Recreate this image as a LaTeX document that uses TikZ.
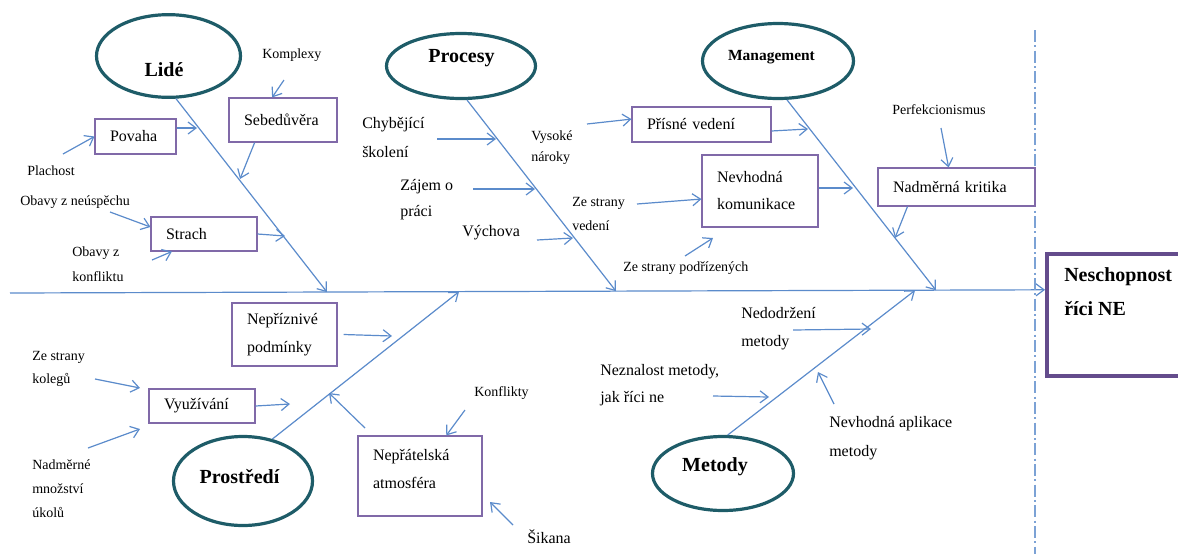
\documentclass[tikz,border=0pt]{standalone}
\usepackage{fontspec}
\setmainfont{Liberation Serif}
\usetikzlibrary{arrows.meta,calc,shapes.geometric}
\definecolor{boneblue}{HTML}{5B8BCB}
\definecolor{boxpurple}{HTML}{8069A8}
\definecolor{cattl}{HTML}{1E5C68}
\definecolor{headpurple}{HTML}{644C8C}

\begin{document}
\begin{tikzpicture}[x=0.75pt,y=-0.75pt,
  arr/.style={draw=boneblue, line width=0.9pt, -{Straight Barb[length=6pt,width=9pt]}},
  cat/.style={ellipse, draw=cattl, line width=2.4pt, inner sep=0pt},
  cattxt/.style={inner sep=0pt, font=\bfseries\fontsize{15}{18}\selectfont},
  box/.style={rectangle, draw=boxpurple, line width=0.8pt, align=left, inner xsep=11.25pt, inner ysep=2pt, font=\fontsize{12}{21}\selectfont},
  lbl/.style={inner sep=0pt, anchor=west, align=left, font=\fontsize{10.5}{18}\selectfont},
  lblm/.style={inner sep=0pt, anchor=west, align=left, font=\fontsize{12}{21}\selectfont},
  headbox/.style={rectangle, draw=headpurple, line width=3pt, inner sep=0pt},
  axisline/.style={draw=boneblue!80, line width=1pt, dash pattern=on 9pt off 2.5pt on 1.5pt off 2.5pt}
]
\useasboundingbox (0,0) rectangle (1178,554);

% ---------- effect (head) and spine ----------
\node[headbox, minimum width=112.5pt, minimum height=91.5pt] (head) at (1122,315) {};
\node[inner sep=0pt, anchor=west, align=left, font=\bfseries\fontsize{15}{25.5}\selectfont] (headtxt) at (1064,292) {Neschopnost\\říci NE};
\coordinate (spineL) at (10,293);
\coordinate (headA) at ($(head.north west)!0.3!(head.south west)$);
\draw[arr] (spineL) -- (headA);
\coordinate (axT) at (1035,30);
\coordinate (axB) at (1035,554);
\draw[axisline] (axT) -- (axB);

% ---------- category ellipses ----------
\node[cat, minimum width=108pt, minimum height=62pt] (lide) at (168.5,56) {};
\node[cattxt] (lidetxt) at (164,70) {Lidé};
\node[cat, minimum width=111.75pt, minimum height=48.75pt] (procesy) at (461,66) {};
\node[cattxt] (procesytxt) at (461.5,58) {Procesy};
\node[cat, minimum width=113.25pt, minimum height=56.25pt] (mgmt) at (778,61) {};
\node[cattxt, font=\bfseries\fontsize{11.6}{14}\selectfont] (mgmttxt) at (771.5,57) {Management};
\node[cat, minimum width=104.25pt, minimum height=66.75pt] (prostredi) at (243,481) {};
\node[cattxt] (prostreditxt) at (239.5,477) {Prostředí};
\node[cat, minimum width=105.75pt, minimum height=55.5pt] (metody) at (723,473.5) {};
\node[cattxt] (metodytxt) at (715,467) {Metody};

% ---------- bones ----------
\coordinate (lideT) at (327,292.1);
\coordinate (procT) at (616,291.2);
\coordinate (mgmtT) at (936,290.3);
\coordinate (prosT) at (459,291.7);
\coordinate (metT) at (915,290.4);
\draw[arr] (lide.-80) -- (lideT);
\draw[arr] (procesy.-80) -- (procT);
\draw[arr] (mgmt.-77) -- (mgmtT);
\draw[arr] (prostredi.55) -- (prosT);
\draw[arr] (metody.83) -- (metT);

% ---------- Lidé ----------
\node[box, minimum height=26.25pt, text width=38.25pt] (povaha) at (135.5,136.5) {Povaha};
\node[box, minimum height=33pt, text width=58.5pt] (sebe) at (283,120) {Sebedůvěra};
\node[box, minimum height=25.5pt, text width=57pt] (strach) at (204,234) {Strach};
\node[lbl] (plachost) at (27,171) {Plachost};
\node[lbl] (komplexy) at (262,55) {Komplexy};
\node[lbl] (obavyN) at (20,202) {Obavy z neúspěchu};
\node[lbl, font=\fontsize{10.5}{18.75}\selectfont] (obavyK) at (72,264.5) {Obavy z\\konfliktu};
\coordinate (L1) at (197,128);
\coordinate (L2) at (240,179);
\coordinate (L3) at (285,236);
\coordinate (P0) at (63,154);
\coordinate (K0) at (284,80);
\coordinate (O1) at (110,212);
\coordinate (O2) at (152,260);
\draw[arr] (povaha.east |- L1) -- (L1);
\draw[arr] (P0) -- (povaha.west);
\draw[arr] ($(sebe.south west)!0.24!(sebe.south east)$) -- (L2);
\draw[arr] (K0) -- ($(sebe.north west)!0.4!(sebe.north east)$);
\draw[arr] (strach.east) -- (L3);
\draw[arr] (O1) -- ($(strach.north west)!0.3!(strach.south west)$);
\draw[arr] (O2) -- ($(strach.south west)!0.2!(strach.south east)$);

% ---------- Procesy ----------
\node[lblm, font=\fontsize{12}{21.75}\selectfont] (chyb) at (362,137.5) {Chybějící\\školení};
\node[lblm, font=\fontsize{12}{19.5}\selectfont] (zajem) at (400,200) {Zájem o\\práci};
\node[lblm] (vychova) at (462,233) {Výchova};
\coordinate (C0) at (437,139);
\coordinate (B1) at (496,139);
\coordinate (Z0) at (473,189);
\coordinate (B2) at (535,189);
\coordinate (V0) at (537,240);
\coordinate (B3) at (573,238);
\draw[arr] (C0) -- (B1);
\draw[arr] (Z0) -- (B2);
\draw[arr] (V0) -- (B3);

% ---------- Management ----------
\node[box, minimum height=26.25pt, text width=81.75pt] (prisne) at (701.5,124.5) {Přísné vedení};
\node[box, minimum height=54pt, text width=64.5pt, font=\fontsize{12}{20.25}\selectfont] (komun) at (760,191) {Nevhodná\\komunikace};
\node[box, minimum height=28.5pt, text width=95.25pt] (kritika) at (956.5,187) {Nadměrná kritika};
\node[lbl, font=\fontsize{10.5}{15.75}\selectfont] (vysoke) at (531,147.5) {Vysoké\\nároky};
\node[lbl] (zsv) at (572,214) {Ze strany\\vedení};
\node[lbl] (zsp) at (623,268) {Ze strany podřízených};
\node[lbl] (perf) at (892,110) {Perfekcionismus};
\coordinate (R0) at (587,124);
\coordinate (M1) at (808,129);
\coordinate (M2) at (853,188);
\coordinate (S0) at (637,204);
\coordinate (S1) at (685,256);
\coordinate (S2) at (713,238);
\coordinate (M3) at (895,238);
\coordinate (F0) at (941,128);
\draw[arr] (R0) -- ($(prisne.north west)!0.35!(prisne.south west)$);
\draw[arr] ($(prisne.north east)!0.68!(prisne.south east)$) -- (M1);
\draw[arr] (komun.east |- M2) -- (M2);
\draw[arr] (S0) -- ($(komun.north west)!0.61!(komun.south west)$);
\draw[arr] (S1) -- (S2);
\draw[arr] ($(kritika.south west)!0.19!(kritika.south east)$) -- (M3);
\draw[arr] (F0) -- ($(kritika.north west)!0.45!(kritika.north east)$);

% ---------- Prostředí ----------
\node[box, minimum height=47.25pt, text width=56.25pt] (nepriz) at (284.5,334.5) {Nepříznivé\\podmínky};
\node[box, minimum height=25.5pt, text width=57pt] (vyuz) at (202,406) {Využívání};
% extra text depth lifts the two lines towards the top of this taller box
\node[box, minimum height=60pt, text width=70.5pt, text depth=32pt] (nepratel) at (420,476) {Nepřátelská\\atmosféra};
\node[lbl, font=\fontsize{10.5}{17.25}\selectfont] (zsk) at (32,369) {Ze strany\\kolegů};
\node[lbl] (nadm) at (32,488.5) {Nadměrné\\množství\\úkolů};
\node[lbl] (konfl) at (474,393) {Konflikty};
\node[lblm] (sikana) at (527,537) {Šikana};
\coordinate (D1) at (392,336);
\coordinate (D2) at (290,404);
\coordinate (K1) at (95,379);
\coordinate (K2) at (140,388);
\coordinate (N1) at (88,448);
\coordinate (N2) at (140,429);
\coordinate (H0) at (365,428);
\coordinate (D3) at (329,393);
\coordinate (Kf0) at (465,410);
\coordinate (Si0) at (513,525);
\coordinate (Si1) at (490,502);
\draw[arr] ([xshift=4.5pt]nepriz.east) -- (D1);
\draw[arr] (vyuz.east) -- (D2);
\draw[arr] (K1) -- (K2);
\draw[arr] (N1) -- (N2);
\draw[arr] (H0) -- (D3);
\draw[arr] (Kf0) -- ($(nepratel.north west)!0.71!(nepratel.north east)$);
\draw[arr] (Si0) -- (Si1);

% ---------- Metody ----------
\node[lblm, font=\fontsize{12}{21}\selectfont] (nedodr) at (741,329) {Nedodržení\\metody};
\node[lblm, font=\fontsize{12}{20.25}\selectfont] (neznal) at (600,385.5) {Neznalost metody,\\jak říci ne};
\node[lblm, font=\fontsize{12}{21.75}\selectfont] (nevhapl) at (829,438.5) {Nevhodná aplikace\\metody};
\coordinate (Nd0) at (793,330);
\coordinate (E1) at (871,329);
\coordinate (Nz0) at (713,396);
\coordinate (E2) at (769,397);
\coordinate (Na0) at (834,404);
\coordinate (E3) at (818,372);
\draw[arr] (Nd0) -- (E1);
\draw[arr] (Nz0) -- (E2);
\draw[arr] (Na0) -- (E3);
\end{tikzpicture}
\end{document}
